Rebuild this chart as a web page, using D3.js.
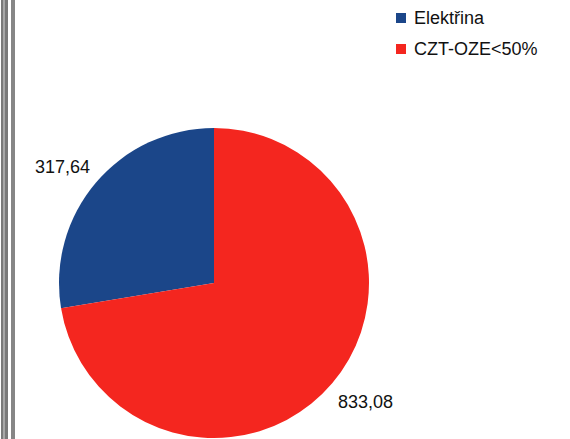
<!DOCTYPE html>
<html>
<head>
<meta charset="utf-8">
<script src="https://cdn.jsdelivr.net/npm/d3@7"></script>
<style>
  body { margin: 0; background: #fff; }
  text { font-family: "Liberation Sans", Arial, sans-serif; fill: #111; }
</style>
</head>
<body>
<div id="chart"></div>
<script>
// Pie chart data
const categories = ["Elektřina", "CZT-OZE<50%"];
const values = [317.64, 833.08];
const labels = ["317,64", "833,08"];
const colors = ["#1b4689", "#f4261f"];

const svgWidth = 570;
const svgHeight = 439;

const svg = d3.select("#chart")
    .append("svg")
    .attr("width", svgWidth)
    .attr("height", svgHeight);

// Scanned page border on the left
svg.append("rect").attr("x", 1).attr("y", 0).attr("width", 7).attr("height", svgHeight).attr("fill", "#7a7a7a");
svg.append("rect").attr("x", 3).attr("y", 0).attr("width", 2).attr("height", svgHeight).attr("fill", "#a8a8a8");
svg.append("rect").attr("x", 11).attr("y", 0).attr("width", 4).attr("height", svgHeight).attr("fill", "#868686");

const cx = 214, cy = 283, radius = 155;

const color = d3.scaleOrdinal().domain(categories).range(colors);

// first slice goes counter-clockwise from 12 o'clock
const pie = d3.pie()
    .sort(null)
    .startAngle(0)
    .endAngle(-2 * Math.PI)
    .value(d => d.value);

const arc = d3.arc().innerRadius(0).outerRadius(radius);

const data = categories.map((c, i) => ({ name: c, value: values[i], label: labels[i] }));
const arcs = pie(data);

const pieGroup = svg.append("g")
    .attr("transform", `translate(${cx}, ${cy})`);

pieGroup.selectAll("path")
    .data(arcs)
    .enter()
    .append("path")
    .attr("d", arc)
    .attr("fill", d => color(d.data.name));

// Value labels outside the slices
pieGroup.selectAll("text.value")
    .data(arcs)
    .enter()
    .append("text")
    .attr("class", "value")
    .attr("x", (d, i) => i === 0 ? -124 : 124)
    .attr("y", (d, i) => i === 0 ? -110 : 125)
    .attr("font-size", 18)
    .attr("text-anchor", (d, i) => i === 0 ? "end" : "start")
    .text(d => d.data.label);

// Legend
const legend = svg.append("g")
    .attr("transform", "translate(396, 13)");

const legendItems = legend.selectAll("g")
    .data(categories)
    .enter()
    .append("g")
    .attr("transform", (d, i) => `translate(0, ${i * 31})`);

legendItems.append("rect")
    .attr("width", 10)
    .attr("height", 10)
    .attr("fill", d => color(d));

legendItems.append("text")
    .attr("x", 18)
    .attr("y", 11)
    .attr("font-size", 18)
    .text(d => d);
</script>
</body>
</html>
